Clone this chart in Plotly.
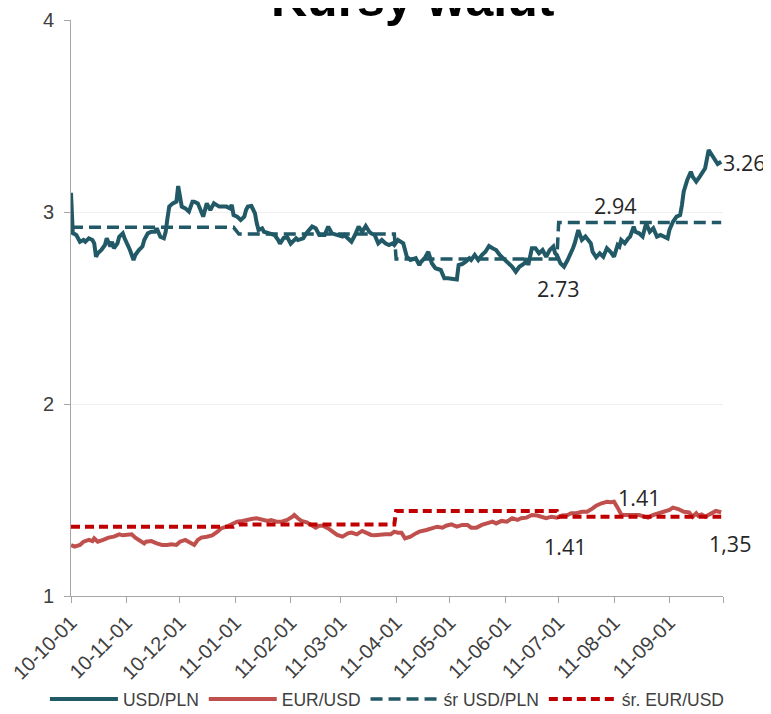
import pandas as pd
import plotly.graph_objects as go

START = "2010-10-01"

# USD/PLN daily-ish readings: day offset from START, value
usd_day = [0, 1, 3, 5, 7, 8, 10, 12, 13, 14, 15, 17, 19, 20, 22, 23, 24, 26, 27, 29, 30, 32, 33, 35, 36, 38, 40, 41,
           43, 45, 47, 48, 50, 52, 53, 54, 55, 57, 59, 60, 61, 62, 64, 66, 68, 69, 71, 73, 74, 76, 78, 79, 80, 83, 87,
           89, 90, 91, 93, 95, 97, 98, 99, 101, 103, 104, 105, 107, 108, 111, 114, 116, 117, 119, 121, 123, 126, 127,
           130, 132, 135, 137, 139, 142, 144, 146, 149, 152, 153, 157, 159, 161, 163, 165, 167, 168, 170, 172, 174,
           176, 178, 180, 181, 183, 186, 188, 190, 193, 195, 196, 198, 200, 202, 204, 207, 209, 211, 214, 216, 217,
           219, 221, 223, 224, 226, 228, 230, 232, 234, 236, 238, 240, 242, 245, 247, 249, 251, 254, 255, 256, 258,
           260, 262, 264, 266, 268, 270, 271, 272, 274, 276, 278, 279, 281, 282, 284, 286, 288, 291, 292, 294, 296,
           298, 300, 302, 304, 306, 307, 308, 310, 312, 313, 315, 316, 318, 320, 322, 324, 326, 328, 330, 332, 334,
           335, 337, 339, 341, 342, 343, 345, 347, 348, 350, 352, 354, 355, 357, 359, 361, 362, 364]
usd_pln = [3.10, 2.89, 2.88, 2.845, 2.854, 2.845, 2.863, 2.854, 2.837, 2.767, 2.785, 2.802, 2.828, 2.863, 2.820, 2.845,
           2.811, 2.837, 2.871, 2.889, 2.863, 2.828, 2.802, 2.750, 2.776, 2.802, 2.820, 2.854, 2.889, 2.897, 2.897,
           2.915, 2.871, 2.863, 2.897, 2.967, 3.028, 3.045, 3.054, 3.135, 3.071, 3.028, 3.019, 3.002, 3.054, 3.054,
           3.045, 3.002, 2.976, 3.045, 3.010, 3.028, 3.045, 3.028, 3.028, 3.019, 3.037, 2.984, 2.976, 2.958, 2.976,
           3.010, 3.028, 3.031, 2.993, 2.941, 2.906, 2.915, 2.897, 2.889, 2.880, 2.854, 2.835, 2.865, 2.870, 2.835,
           2.863, 2.854, 2.863, 2.892, 2.924, 2.915, 2.880, 2.880, 2.924, 2.889, 2.880, 2.872, 2.880, 2.845, 2.880,
           2.924, 2.897, 2.927, 2.897, 2.889, 2.880, 2.837, 2.854, 2.837, 2.828, 2.837, 2.828, 2.854, 2.837, 2.767,
           2.750, 2.759, 2.724, 2.741, 2.759, 2.793, 2.733, 2.707, 2.698, 2.655, 2.655, 2.649, 2.649, 2.724, 2.729,
           2.741, 2.759, 2.750, 2.776, 2.750, 2.776, 2.793, 2.823, 2.811, 2.802, 2.776, 2.759, 2.733, 2.715, 2.689,
           2.715, 2.733, 2.759, 2.724, 2.811, 2.811, 2.785, 2.802, 2.767, 2.802, 2.820, 2.785, 2.776, 2.733, 2.715,
           2.750, 2.767, 2.811, 2.837, 2.906, 2.854, 2.872, 2.837, 2.793, 2.764, 2.785, 2.767, 2.811, 2.793, 2.767,
           2.828, 2.820, 2.854, 2.837, 2.863, 2.872, 2.924, 2.897, 2.889, 2.872, 2.941, 2.897, 2.915, 2.872, 2.880,
           2.872, 2.863, 2.906, 2.949, 2.976, 2.984, 3.036, 3.106, 3.167, 3.210, 3.184, 3.158, 3.184, 3.215, 3.228,
           3.323, 3.297, 3.262, 3.250, 3.262]

# EUR/USD readings
eur_day = [0, 2, 5, 7, 10, 12, 13, 15, 18, 21, 24, 27, 29, 32, 34, 36, 39, 41, 42, 45, 48, 51, 54, 56, 59, 61, 64, 66,
           68, 69, 71, 73, 76, 79, 82, 84, 87, 90, 93, 96, 98, 101, 104, 107, 110, 112, 115, 118, 121, 124, 125, 127,
           129, 132, 135, 137, 139, 141, 144, 146, 149, 152, 155, 157, 160, 163, 165, 168, 170, 173, 176, 179, 181,
           183, 185, 187, 190, 193, 195, 199, 202, 205, 208, 210, 213, 216, 219, 222, 224, 227, 230, 233, 236, 238,
           241, 244, 247, 250, 252, 255, 258, 261, 264, 266, 269, 272, 275, 278, 280, 283, 286, 289, 292, 294, 297,
           300, 302, 304, 306, 308, 309, 312, 315, 318, 321, 323, 326, 329, 332, 335, 337, 340, 343, 346, 348, 350,
           351, 353, 355, 358, 361, 364]
eur_usd = [1.266, 1.257, 1.266, 1.283, 1.292, 1.286, 1.300, 1.283, 1.292, 1.304, 1.309, 1.321, 1.316, 1.321, 1.321,
           1.304, 1.283, 1.274, 1.283, 1.286, 1.274, 1.266, 1.266, 1.269, 1.266, 1.283, 1.292, 1.283, 1.269, 1.266,
           1.292, 1.304, 1.309, 1.316, 1.335, 1.352, 1.361, 1.373, 1.387, 1.391, 1.396, 1.401, 1.405, 1.396, 1.391,
           1.396, 1.387, 1.387, 1.396, 1.413, 1.422, 1.405, 1.391, 1.384, 1.370, 1.356, 1.366, 1.366, 1.352, 1.339,
           1.318, 1.309, 1.326, 1.330, 1.321, 1.339, 1.330, 1.318, 1.316, 1.321, 1.321, 1.321, 1.335, 1.330, 1.330,
           1.300, 1.309, 1.326, 1.335, 1.344, 1.352, 1.361, 1.356, 1.366, 1.373, 1.361, 1.370, 1.370, 1.356, 1.356,
           1.370, 1.378, 1.387, 1.378, 1.391, 1.387, 1.405, 1.396, 1.405, 1.408, 1.422, 1.419, 1.408, 1.405, 1.413,
           1.408, 1.419, 1.422, 1.431, 1.431, 1.439, 1.439, 1.456, 1.470, 1.483, 1.491, 1.488, 1.491, 1.460, 1.425,
           1.422, 1.422, 1.419, 1.422, 1.413, 1.408, 1.422, 1.431, 1.439, 1.448, 1.460, 1.453, 1.439, 1.436, 1.413,
           1.431, 1.419, 1.425, 1.413, 1.431, 1.443, 1.436]

# Quarterly averages (step lines)
avg_dates = ["2010-10-01", "2010-12-31", "2011-01-03", "2011-03-31", "2011-04-01", "2011-06-30", "2011-07-01",
             "2011-09-30"]
avg_usd_pln = [2.92, 2.92, 2.885, 2.885, 2.755, 2.755, 2.945, 2.945]
avg_eur_usd = [1.361, 1.361, 1.373, 1.373, 1.443, 1.443, 1.413, 1.413]

tick_dates = ["2010-10-01", "2010-11-01", "2010-12-01", "2011-01-01", "2011-02-01", "2011-03-01", "2011-04-01",
              "2011-05-01", "2011-06-01", "2011-07-01", "2011-08-01", "2011-09-01", "2011-10-01"]
tick_text = ["10-10-01", "10-11-01", "10-12-01", "11-01-01", "11-02-01", "11-03-01", "11-04-01", "11-05-01",
             "11-06-01", "11-07-01", "11-08-01", "11-09-01", ""]

# labels: (text, date, value, anchor, xshift)
labels = [("3.26", "2011-09-30", 3.26, "left", 0), ("2.94", "2011-08-02", 3.035, "center", 0),
          ("2.73", "2011-07-01", 2.60, "center", 0), ("1.41", "2011-08-15", 1.515, "center", 0),
          ("1.41", "2011-07-05", 1.26, "center", 0), ("1,35", "2011-09-30", 1.276, "center", 9)]

start = pd.Timestamp(START)
usd_x = [start + pd.Timedelta(days=d) for d in usd_day]
eur_x = [start + pd.Timedelta(days=d) for d in eur_day]

TEAL = "#215967"
RED = "#C0504D"
DRED = "#C00000"
FONT = "Liberation Sans, Arial, sans-serif"

fig = go.Figure()
fig.add_trace(go.Scatter(x=usd_x, y=usd_pln, mode="lines", name="USD/PLN",
                         line=dict(color=TEAL, width=4)))
fig.add_trace(go.Scatter(x=eur_x, y=eur_usd, mode="lines", name="EUR/USD",
                         line=dict(color=RED, width=4)))
fig.add_trace(go.Scatter(x=avg_dates, y=avg_usd_pln, mode="lines", name="śr USD/PLN",
                         line=dict(color=TEAL, width=3.5, dash="12px,6px")))
fig.add_trace(go.Scatter(x=avg_dates, y=avg_eur_usd, mode="lines", name="śr. EUR/USD",
                         line=dict(color=DRED, width=4, dash="9px,5px")))

annos = []
for txt, d, v, anc, xs in labels:
    annos.append(dict(text=txt, x=d, y=v, xref="x", yref="y", showarrow=False, xanchor=anc, xshift=xs,
                      yanchor="middle", font=dict(family="Open Sans, Noto Sans, sans-serif", size=21.5,
                                                  color="#262626")))
annos.append(dict(text="<b>Kursy walut</b>", x=0.525, y=1.037, xref="paper", yref="paper", showarrow=False,
                  xanchor="center", yanchor="middle",
                  font=dict(family="Liberation Sans, Arial, sans-serif", size=50, color="#000000")))

fig.update_layout(
    width=763, height=706,
    margin=dict(l=63, r=48, t=12, b=118, autoexpand=False),
    paper_bgcolor="white", plot_bgcolor="white",
    showlegend=True,
    legend=dict(orientation="h", x=-0.04, xanchor="left", y=-0.179, yanchor="middle",
                itemwidth=68,
                font=dict(family=FONT, size=17.5, color="#404040"),
                bgcolor="rgba(0,0,0,0)"),
    annotations=annos,
)
fig.update_xaxes(type="date", range=["2010-10-01", "2011-10-01"], tickvals=tick_dates, ticktext=tick_text,
                 tickangle=-45, ticks="outside", ticklen=6, tickcolor="#A6A6A6", showline=True,
                 linecolor="#A6A6A6", linewidth=1, showgrid=False, zeroline=False, automargin=False,
                 tickfont=dict(family=FONT, size=20, color="#404040"))
fig.update_yaxes(range=[1, 4], tickvals=[1, 2, 3, 4], ticks="outside", ticklen=6, tickcolor="#A6A6A6",
                 showline=True, linecolor="#A6A6A6", linewidth=1, showgrid=True, gridcolor="#F0F0F0",
                 zeroline=False, automargin=False, ticklabelstandoff=6,
                 tickfont=dict(family=FONT, size=20, color="#404040"))

fig.write_html("out.html")
